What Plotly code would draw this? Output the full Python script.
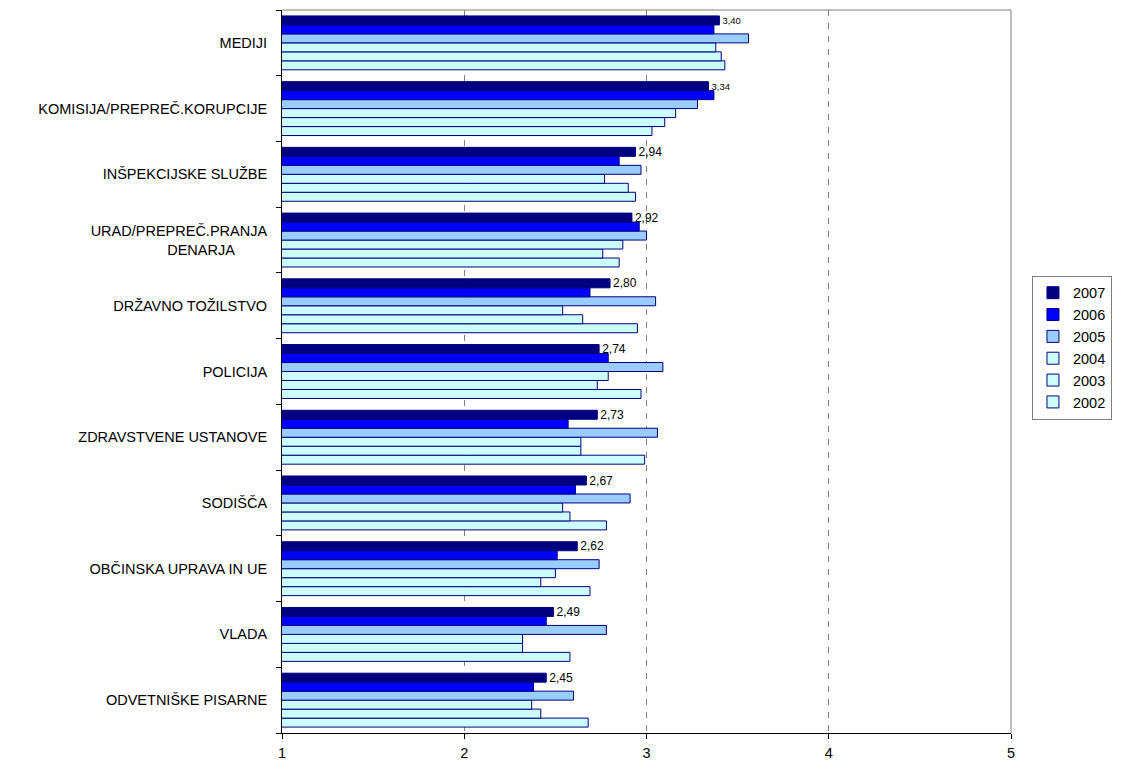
import plotly.graph_objects as go

categories = [
    "MEDIJI",
    "KOMISIJA/PREPREČ.KORUPCIJE",
    "INŠPEKCIJSKE SLUŽBE",
    "URAD/PREPREČ.PRANJA<br>DENARJA" + "\u00a0" * 8,
    "DRŽAVNO TOŽILSTVO",
    "POLICIJA",
    "ZDRAVSTVENE USTANOVE",
    "SODIŠČA",
    "OBČINSKA UPRAVA IN UE",
    "VLADA",
    "ODVETNIŠKE PISARNE",
]

years = ["2007", "2006", "2005", "2004", "2003", "2002"]

v2007 = [3.40, 3.34, 2.94, 2.92, 2.80, 2.74, 2.73, 2.67, 2.62, 2.49, 2.45]
v2006 = [3.37, 3.37, 2.85, 2.96, 2.69, 2.79, 2.57, 2.61, 2.51, 2.45, 2.38]
v2005 = [3.56, 3.28, 2.97, 3.00, 3.05, 3.09, 3.06, 2.91, 2.74, 2.78, 2.60]
v2004 = [3.38, 3.16, 2.77, 2.87, 2.54, 2.79, 2.64, 2.54, 2.50, 2.32, 2.37]
v2003 = [3.41, 3.10, 2.90, 2.76, 2.65, 2.73, 2.64, 2.58, 2.42, 2.32, 2.42]
v2002 = [3.43, 3.03, 2.94, 2.85, 2.95, 2.97, 2.99, 2.78, 2.69, 2.58, 2.68]

series = {"2007": v2007, "2006": v2006, "2005": v2005,
          "2004": v2004, "2003": v2003, "2002": v2002}
colors = {"2007": "#000080", "2006": "#0000FF", "2005": "#99CCFF",
          "2004": "#CCFFFF", "2003": "#CCFFFF", "2002": "#CCFFFF"}

FONT = "Liberation Sans, Arial"

fig = go.Figure()
# add oldest first so that 2007 is drawn at the top of each group
for yr in reversed(years):
    vals = series[yr]
    if yr == "2007":
        text = [f"{v:.2f}".replace(".", ",") for v in vals]
        sizes = [9.5 if i < 2 else 12 for i in range(len(vals))]
        tpos = "outside"
    else:
        text, sizes, tpos = None, 12, None
    fig.add_trace(go.Bar(
        name=yr, y=categories, x=vals, orientation="h",
        base=0,
        marker=dict(color=colors[yr], line=dict(color="#000080", width=1)),
        text=text, textposition=tpos, constraintext="none",
        textfont=dict(size=sizes, color="#000000", family=FONT),
        cliponaxis=False, legendgroup=yr,
    ))

fig.update_layout(
    width=1113, height=755,
    paper_bgcolor="white", plot_bgcolor="white",
    font=dict(family=FONT, size=14.5, color="#000000"),
    barmode="group", bargap=0.18, bargroupgap=0.0,
    margin=dict(l=274, r=110, t=2, b=23),
    showlegend=True,
    legend=dict(xref="container", yref="container", x=0.9200, y=0.55,
                xanchor="left", yanchor="middle",
                traceorder="reversed", bordercolor="#808080", borderwidth=1,
                bgcolor="white", tracegroupgap=10, itemwidth=30,
                font=dict(size=14.5, family=FONT)),
    xaxis=dict(range=[1, 5], dtick=1, tick0=1, showgrid=True,
               gridcolor="#808080", griddash="6px,7px", gridwidth=1,
               showline=True, linecolor="#000000", linewidth=1,
               ticks="outside", ticklen=5, tickcolor="#000000",
               zeroline=False, ticklabelstandoff=2),
    yaxis=dict(type="category", categoryorder="array",
               categoryarray=list(reversed(categories)),
               showline=True, linecolor="#000000", linewidth=1,
               ticks="outside", ticklen=5, tickcolor="#000000",
               tickson="boundaries", showgrid=False, ticklabelstandoff=11),
    shapes=[
        dict(type="line", xref="paper", yref="paper", x0=0, x1=1, y0=1, y1=1,
             line=dict(color="#808080", width=1)),
        dict(type="line", xref="paper", yref="paper", x0=1, x1=1, y0=0, y1=1,
             line=dict(color="#808080", width=1)),
    ],
)

fig.write_html("out.html")
